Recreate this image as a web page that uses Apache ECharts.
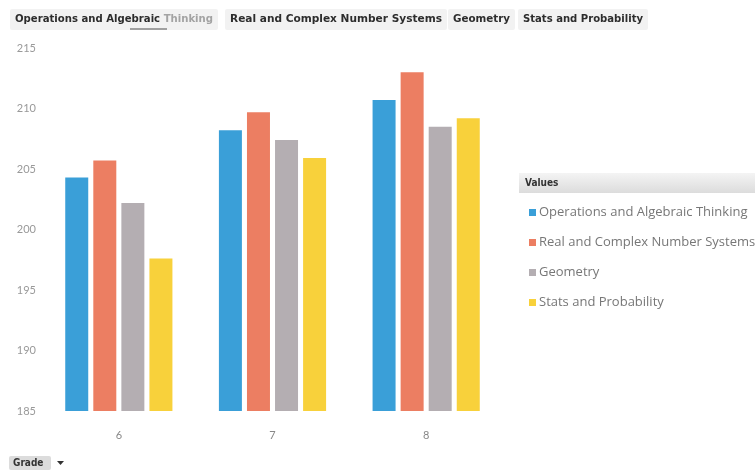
<!DOCTYPE html>
<html>
<head>
<meta charset="utf-8">
<script src="https://cdn.jsdelivr.net/npm/echarts@6/dist/echarts.min.js"></script>
<style>
  html, body { margin: 0; padding: 0; background: #fff; }
  #chart { width: 755px; height: 473px; }
</style>
</head>
<body>
<div id="chart"></div>
<script>
// Grade levels on the category axis
const grades = ['6', '7', '8'];

// Domain names, in series order
const domains = [
  'Operations and Algebraic Thinking',
  'Real and Complex Number Systems',
  'Geometry',
  'Stats and Probability'
];

// Average scale score per grade for each domain
const opsAlgebra = [204.3, 208.2, 210.7];
const realComplex = [205.7, 209.7, 213.0];
const geometry = [202.2, 207.4, 208.5];
const statsProb = [197.6, 205.9, 209.2];

// Value axis range and step
const yMin = 185;
const yMax = 215;
const yStep = 5;

const colors = ['#3a9fd8', '#ec7e62', '#b4aeb2', '#f8d13b'];
const seriesValues = [opsAlgebra, realComplex, geometry, statsProb];

const chart = echarts.init(document.getElementById('chart'), null, { renderer: 'canvas' });

// Top filter strip: one pill per domain, text squeezed to each pill's width
const headerFont = 'bold 11px "DejaVu Sans Condensed", sans-serif';
const measureCtx = document.createElement('canvas').getContext('2d');
measureCtx.font = headerFont;
const headerTextX = [15, 230, 453, 523];
const headerTextW = [198, 212, 57, 120];
const headerItems = [];
domains.forEach((name, i) => {
  headerItems.push({
    type: 'rect',
    shape: { x: headerTextX[i] - 5, y: 9, width: headerTextW[i] + 10, height: 21, r: 2 },
    style: { fill: '#f2f2f2' }
  });
  const natural = measureCtx.measureText(name).width;
  const sx = headerTextW[i] / natural;
  if (i === 0) {
    const lead = 'Operations and Algebraic ';
    const leadW = measureCtx.measureText(lead).width;
    headerItems.push({
      type: 'text', x: headerTextX[i], y: 19, scaleX: sx,
      style: { x: 0, y: 0, text: lead, font: headerFont, fill: '#2d2d2d', verticalAlign: 'middle' }
    });
    headerItems.push({
      type: 'text', x: headerTextX[i] + leadW * sx, y: 19, scaleX: sx,
      style: { x: 0, y: 0, text: 'Thinking', font: headerFont, fill: '#a3a3a3', verticalAlign: 'middle' }
    });
  } else {
    headerItems.push({
      type: 'text', x: headerTextX[i], y: 19, scaleX: sx,
      style: { x: 0, y: 0, text: name, font: headerFont, fill: '#2d2d2d', verticalAlign: 'middle' }
    });
  }
});
// hover underline in the first pill
headerItems.push({
  type: 'rect',
  shape: { x: 130, y: 28, width: 37, height: 2 },
  style: { fill: '#a0a0a0' }
});

chart.setOption({
  animation: false,
  color: colors,
  grid: { left: 42, right: 252, top: 48, bottom: 62 },
  xAxis: {
    type: 'category',
    data: grades,
    axisLine: { show: false },
    axisTick: { show: false },
    axisLabel: { color: '#888', fontSize: 11, margin: 19, fontFamily: 'Lato, sans-serif' }
  },
  yAxis: {
    type: 'value',
    min: yMin,
    max: yMax,
    interval: yStep,
    axisLine: { show: false },
    axisTick: { show: false },
    splitLine: { show: false },
    axisLabel: { color: '#999', fontSize: 11, margin: 6, fontFamily: 'Lato, sans-serif' }
  },
  legend: {
    orient: 'vertical',
    left: 524,
    top: 201,
    itemWidth: 7,
    itemHeight: 7,
    itemGap: 17,
    icon: 'rect',
    data: domains,
    textStyle: { color: '#777', fontSize: 13, fontFamily: '"Open Sans", sans-serif', padding: [0, 0, 0, -2] }
  },
  graphic: [
    ...headerItems,
    // "Values" header bar for the legend
    {
      type: 'rect',
      shape: { x: 519, y: 173, width: 236, height: 20 },
      style: {
        fill: new echarts.graphic.LinearGradient(0, 0, 0, 1, [
          { offset: 0, color: '#f4f4f4' },
          { offset: 1, color: '#dcdcdc' }
        ])
      }
    },
    {
      type: 'text',
      style: {
        x: 525, y: 183, text: 'Values', verticalAlign: 'middle',
        font: 'bold 10px "DejaVu Sans Condensed", sans-serif', fill: '#333'
      }
    },
    // "Grade" field button with its drop-down arrow
    {
      type: 'rect',
      shape: { x: 9, y: 456, width: 42, height: 14, r: 2 },
      style: { fill: '#dcdcdc' }
    },
    {
      type: 'text',
      style: {
        x: 13, y: 463.5, text: 'Grade', verticalAlign: 'middle',
        font: 'bold 10px "DejaVu Sans Condensed", sans-serif', fill: '#333'
      }
    },
    {
      type: 'polygon',
      shape: { points: [[57, 461], [64, 461], [60.5, 465]] },
      style: { fill: '#333' }
    }
  ],
  series: domains.map((name, i) => ({
    name: name,
    type: 'bar',
    data: seriesValues[i],
    barWidth: 23,
    barGap: '22%',
    itemStyle: { color: colors[i] }
  }))
});
</script>
</body>
</html>
